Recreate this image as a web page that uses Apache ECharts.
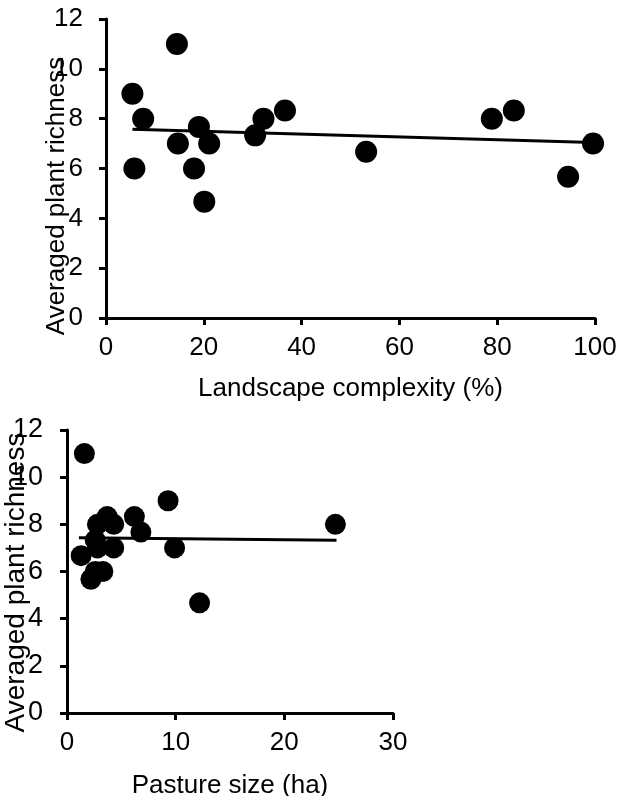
<!DOCTYPE html>
<html>
<head>
<meta charset="utf-8">
<script src="https://cdn.jsdelivr.net/npm/echarts@6/dist/echarts.min.js"></script>
<style>
  html, body { margin: 0; padding: 0; background: #fff; }
  #chart { width: 619px; height: 796px; }
</style>
</head>
<body>
<div id="chart"></div>
<script>
// top panel: landscape complexity (%) vs richness
const complexityPts = [
  [5.4, 9.0], [5.8, 6.0], [7.6, 8.0], [14.5, 11.0], [14.7, 7.0],
  [18.0, 6.0], [19.0, 7.67], [20.1, 4.67], [21.1, 7.0], [30.5, 7.33],
  [32.2, 8.0], [36.6, 8.33], [53.2, 6.67], [78.9, 8.0], [83.4, 8.33],
  [94.5, 5.67], [99.6, 7.0],
];
const complexityTrend = [[5.4, 7.58], [99.6, 7.04]];

// bottom panel: pasture size (ha) vs richness
const pasturePts = [
  [1.3, 6.67], [1.6, 11.0], [2.2, 5.67], [2.6, 6.0], [2.6, 7.33],
  [2.8, 8.0], [2.8, 7.0], [3.3, 6.0], [3.7, 8.33], [4.3, 8.0],
  [4.3, 7.0], [6.2, 8.33], [6.8, 7.67], [9.3, 9.0], [9.9, 7.0],
  [12.2, 4.67], [24.7, 8.0],
];
const pastureTrend = [[1.1, 7.43], [24.8, 7.32]];

const font = 'Liberation Sans, Arial, sans-serif';
const txt = (size) => ({ color: '#000', fontFamily: font, fontSize: size });

const axisBase = {
  axisLine: { show: true, onZero: false, lineStyle: { color: '#000', width: 3 } },
  axisTick: { show: true, inside: false, length: 7, lineStyle: { color: '#000', width: 3 } },
  splitLine: { show: false },
  nameLocation: 'middle',
  nameMoveOverlap: false,
};

const chart = echarts.init(document.getElementById('chart'));
chart.setOption({
  animation: false,
  grid: [
    { left: 106, top: 19, width: 489, height: 299, outerBoundsMode: 'none' },
    { left: 67, top: 430, width: 326, height: 283, outerBoundsMode: 'none' },
  ],
  xAxis: [
    {
      ...axisBase, gridIndex: 0, type: 'value', min: 0, max: 100, interval: 20,
      axisLabel: { ...txt(26), margin: 17 },
      name: 'Landscape complexity (%)', nameGap: 58,
      nameTextStyle: txt(26),
    },
    {
      ...axisBase, gridIndex: 1, type: 'value', min: 0, max: 30, interval: 10,
      axisLabel: { ...txt(26), margin: 17 },
      name: 'Pasture size (ha)', nameGap: 60,
      nameTextStyle: txt(26),
    },
  ],
  yAxis: [
    {
      ...axisBase, gridIndex: 0, type: 'value', min: 0, max: 12, interval: 2,
      axisLabel: { ...txt(26), margin: 23 },
      name: 'Averaged plant richness', nameGap: 36,
      nameTextStyle: { ...txt(26), padding: [0, 55, 0, 0] },
    },
    {
      ...axisBase, gridIndex: 1, type: 'value', min: 0, max: 12, interval: 2,
      axisLabel: { ...txt(27), margin: 24 },
      name: 'Averaged plant richness', nameGap: 37,
      nameTextStyle: { ...txt(28), padding: [0, 22, 0, 0] },
    },
  ],
  series: [
    {
      type: 'line', xAxisIndex: 0, yAxisIndex: 0, data: complexityTrend,
      showSymbol: false, lineStyle: { color: '#000', width: 3 }, z: 1,
    },
    {
      type: 'scatter', xAxisIndex: 0, yAxisIndex: 0, data: complexityPts,
      symbolSize: 22, itemStyle: { color: '#000', opacity: 1 }, z: 2,
    },
    {
      type: 'line', xAxisIndex: 1, yAxisIndex: 1, data: pastureTrend,
      showSymbol: false, lineStyle: { color: '#000', width: 3 }, z: 1,
    },
    {
      type: 'scatter', xAxisIndex: 1, yAxisIndex: 1, data: pasturePts,
      symbolSize: 21, itemStyle: { color: '#000', opacity: 1 }, z: 2,
    },
  ],
});
</script>
</body>
</html>
